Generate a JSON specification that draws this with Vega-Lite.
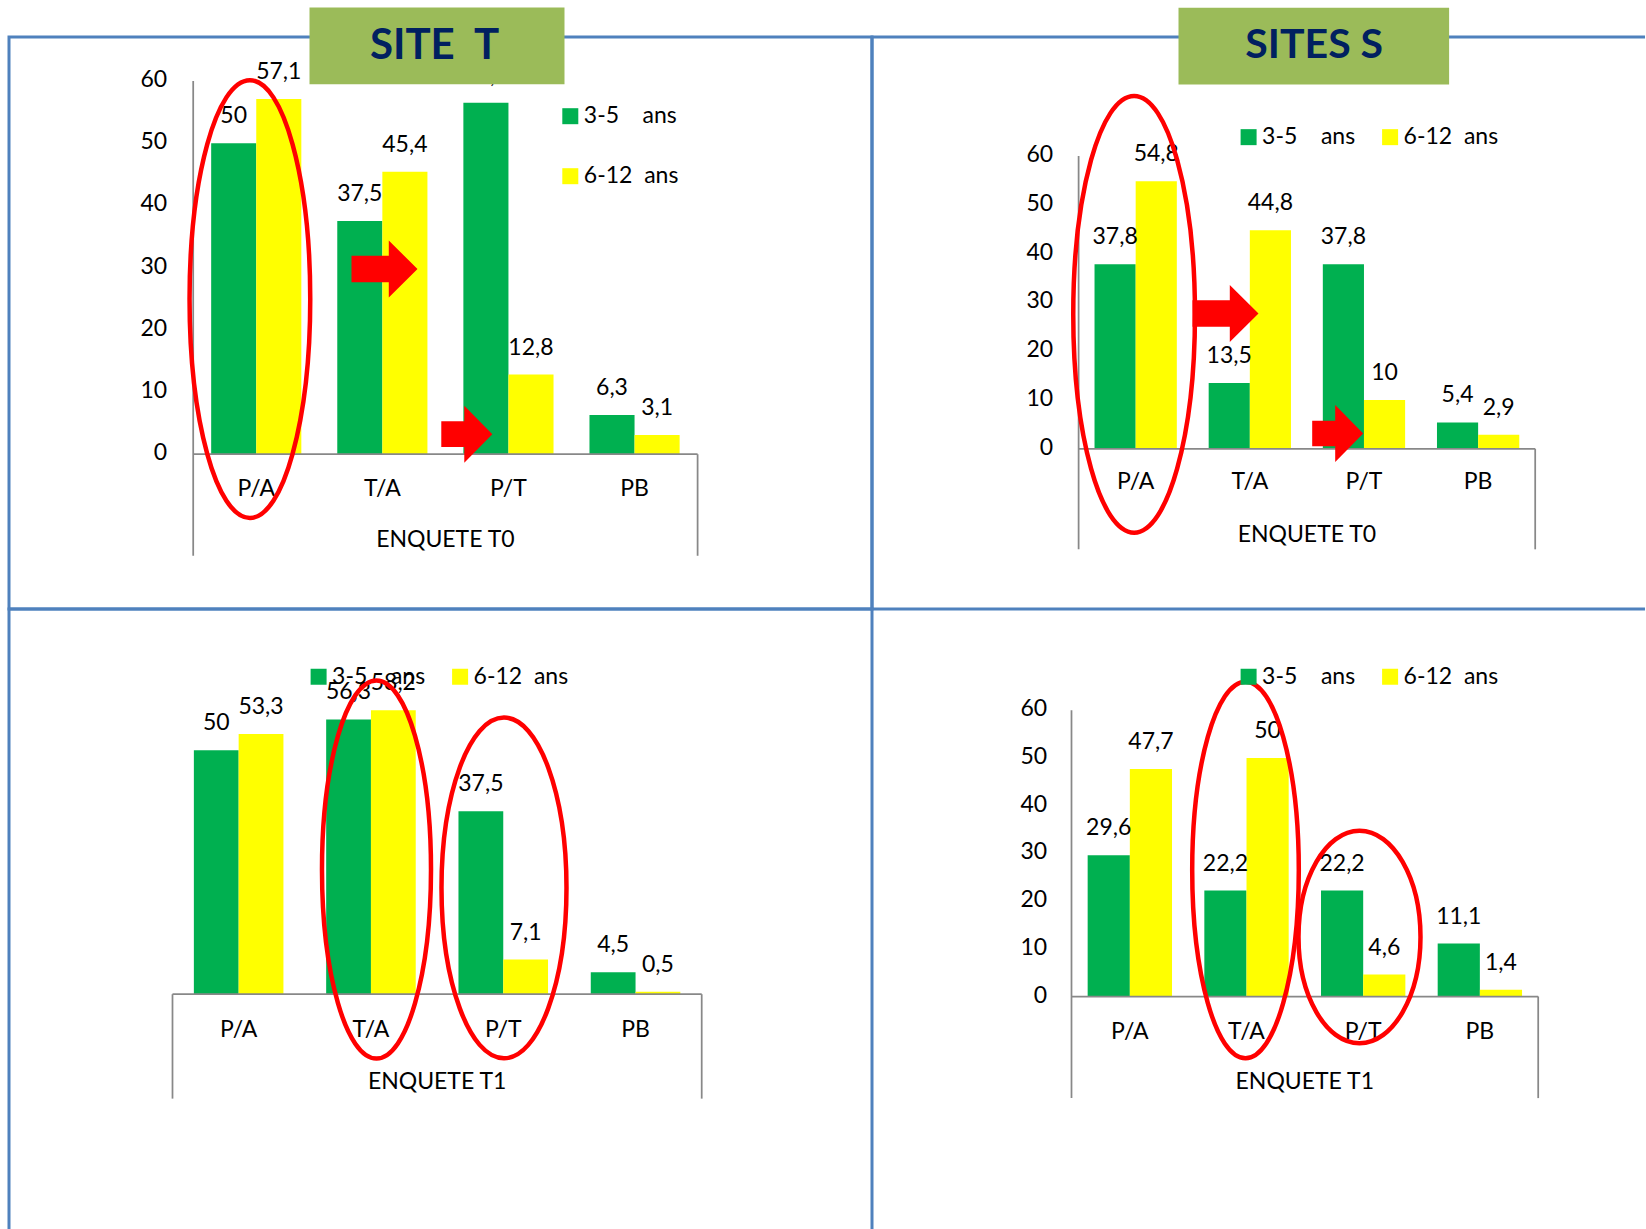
{
  "$schema": "https://vega.github.io/schema/vega-lite/v6.json",
  "background": "white",
  "padding": {"left": 7, "top": 6, "right": 0, "bottom": 0},
  "autosize": {"type": "pad"},
  "datasets": {
    "d": [
      {"site": "T", "enq": "T0", "cat": "P/A", "grp": "3-5 ans", "value": 50},
      {"site": "T", "enq": "T0", "cat": "P/A", "grp": "6-12 ans", "value": 57.1},
      {"site": "T", "enq": "T0", "cat": "T/A", "grp": "3-5 ans", "value": 37.5},
      {"site": "T", "enq": "T0", "cat": "T/A", "grp": "6-12 ans", "value": 45.4},
      {"site": "T", "enq": "T0", "cat": "P/T", "grp": "3-5 ans", "value": 56.5},
      {"site": "T", "enq": "T0", "cat": "P/T", "grp": "6-12 ans", "value": 12.8},
      {"site": "T", "enq": "T0", "cat": "PB", "grp": "3-5 ans", "value": 6.3},
      {"site": "T", "enq": "T0", "cat": "PB", "grp": "6-12 ans", "value": 3.1},
      {"site": "S", "enq": "T0", "cat": "P/A", "grp": "3-5 ans", "value": 37.8},
      {"site": "S", "enq": "T0", "cat": "P/A", "grp": "6-12 ans", "value": 54.8},
      {"site": "S", "enq": "T0", "cat": "T/A", "grp": "3-5 ans", "value": 13.5},
      {"site": "S", "enq": "T0", "cat": "T/A", "grp": "6-12 ans", "value": 44.8},
      {"site": "S", "enq": "T0", "cat": "P/T", "grp": "3-5 ans", "value": 37.8},
      {"site": "S", "enq": "T0", "cat": "P/T", "grp": "6-12 ans", "value": 10},
      {"site": "S", "enq": "T0", "cat": "PB", "grp": "3-5 ans", "value": 5.4},
      {"site": "S", "enq": "T0", "cat": "PB", "grp": "6-12 ans", "value": 2.9},
      {"site": "T", "enq": "T1", "cat": "P/A", "grp": "3-5 ans", "value": 50},
      {"site": "T", "enq": "T1", "cat": "P/A", "grp": "6-12 ans", "value": 53.3},
      {"site": "T", "enq": "T1", "cat": "T/A", "grp": "3-5 ans", "value": 56.3},
      {"site": "T", "enq": "T1", "cat": "T/A", "grp": "6-12 ans", "value": 58.2},
      {"site": "T", "enq": "T1", "cat": "P/T", "grp": "3-5 ans", "value": 37.5},
      {"site": "T", "enq": "T1", "cat": "P/T", "grp": "6-12 ans", "value": 7.1},
      {"site": "T", "enq": "T1", "cat": "PB", "grp": "3-5 ans", "value": 4.5},
      {"site": "T", "enq": "T1", "cat": "PB", "grp": "6-12 ans", "value": 0.5},
      {"site": "S", "enq": "T1", "cat": "P/A", "grp": "3-5 ans", "value": 29.6},
      {"site": "S", "enq": "T1", "cat": "P/A", "grp": "6-12 ans", "value": 47.7},
      {"site": "S", "enq": "T1", "cat": "T/A", "grp": "3-5 ans", "value": 22.2},
      {"site": "S", "enq": "T1", "cat": "T/A", "grp": "6-12 ans", "value": 50},
      {"site": "S", "enq": "T1", "cat": "P/T", "grp": "3-5 ans", "value": 22.2},
      {"site": "S", "enq": "T1", "cat": "P/T", "grp": "6-12 ans", "value": 4.6},
      {"site": "S", "enq": "T1", "cat": "PB", "grp": "3-5 ans", "value": 11.1},
      {"site": "S", "enq": "T1", "cat": "PB", "grp": "6-12 ans", "value": 1.4}
    ],
    "ticks": [{"v": 0}, {"v": 10}, {"v": 20}, {"v": 30}, {"v": 40}, {"v": 50}, {"v": 60}]
  },
  "columns": 2,
  "spacing": 0,
  "bounds": "flush",
  "resolve": {"scale": {"color": "independent", "xOffset": "independent"}, "legend": {"color": "independent"}},
  "concat": [
    {
      "width": 863, "height": 572,
      "view": {"stroke": "#4F81BD", "strokeWidth": 3},
      "layer": [
        {
          "data": {"name": "d"},
          "transform": [{"filter": "datum.site == 'T' && datum.enq == 'T0'"}],
          "mark": {"type": "bar"},
          "encoding": {
            "x": {"field": "cat", "type": "nominal",
              "scale": {"domain": ["P/A", "T/A", "P/T", "PB"], "range": [184.2, 688.6], "paddingInner": 0.285, "paddingOuter": 0.1425, "round": false},
              "axis": null},
            "xOffset": {"field": "grp", "type": "nominal", "scale": {"domain": ["3-5 ans", "6-12 ans"]}},
            "y": {"field": "value", "type": "quantitative",
              "scale": {"domain": [-24.887, 67.074], "nice": false, "zero": false},
              "axis": null},
            "y2": {"datum": 0},
            "color": {"field": "grp", "type": "nominal",
              "scale": {"domain": ["3-5 ans", "6-12 ans"], "range": ["#00B050", "#FFFF00"]},
              "legend": {"orient": "none", "legendX": 549.8, "legendY": 67.7, "direction": "vertical", "rowPadding": 36,
                "labelExpr": "datum.label == '3-5 ans' ? '3-5\u00a0\u00a0\u00a0\u00a0ans' : '6-12\u00a0\u00a0ans'"}}
          }
        },
        {
          "data": {"name": "d"},
          "transform": [{"filter": "datum.site == 'T' && datum.enq == 'T0'"}],
          "mark": {"type": "text", "baseline": "middle", "dy": -27, "fontSize": 23, "color": "#000000"},
          "encoding": {
            "x": {"field": "cat", "type": "nominal", "axis": null},
            "xOffset": {"field": "grp", "type": "nominal"},
            "y": {"field": "value", "type": "quantitative", "axis": null},
            "text": {"field": "value", "type": "quantitative", "format": ".1~f"}
          }
        },
        {
          "data": {"name": "ticks"},
          "mark": {"type": "text", "align": "right", "baseline": "middle", "dy": -1, "fontSize": 23, "color": "#000000"},
          "encoding": {
            "x": {"datum": "P/A", "type": "nominal", "bandPosition": -0.4877, "axis": null},
            "y": {"field": "v", "type": "quantitative", "axis": null},
            "text": {"field": "v", "type": "quantitative"}
          }
        },
        {
          "data": {"name": "d"},
          "transform": [{"filter": "datum.site == 'T' && datum.enq == 'T0' && datum.grp == '3-5 ans'"}],
          "mark": {"type": "text", "baseline": "middle", "fontSize": 23, "color": "#000000"},
          "encoding": {
            "x": {"field": "cat", "type": "nominal", "axis": null},
            "y": {"datum": -5.53, "type": "quantitative", "axis": null},
            "text": {"field": "cat", "type": "nominal"}
          }
        },
        {
          "data": {"values": [{}]},
          "mark": {"type": "text", "text": "ENQUETE T0", "baseline": "middle", "fontSize": 23, "color": "#000000"},
          "encoding": {
            "x": {"datum": "T/A", "type": "nominal", "bandPosition": 1.1987, "axis": null},
            "y": {"datum": -13.8, "type": "quantitative", "axis": null}
          }
        },
        {
          "data": {"values": [{}]},
          "mark": {"type": "rule", "color": "#888888", "strokeWidth": 1.75},
          "encoding": {
            "x": {"datum": "P/A", "type": "nominal", "bandPosition": -0.1993, "axis": null},
            "y": {"datum": 60, "type": "quantitative", "axis": null},
            "y2": {"datum": -16.33}
          }
        },
        {
          "data": {"values": [{}]},
          "mark": {"type": "rule", "color": "#888888", "strokeWidth": 1.75},
          "encoding": {
            "x": {"datum": "PB", "type": "nominal", "bandPosition": 1.1993, "axis": null},
            "y": {"datum": 0, "type": "quantitative", "axis": null},
            "y2": {"datum": -16.33}
          }
        },
        {
          "data": {"values": [{}]},
          "mark": {"type": "rule", "color": "#888888", "strokeWidth": 1.75},
          "encoding": {
            "x": {"datum": "P/A", "type": "nominal", "bandPosition": -0.1993, "axis": null},
            "x2": {"datum": "PB", "bandPosition": 1.1993},
            "y": {"datum": 0, "type": "quantitative", "axis": null}
          }
        },
        {
          "data": {"values": [{}]},
          "mark": {"type": "point", "shape": "M0,-1A0.2757,1,0,1,1,0,1A0.2757,1,0,1,1,0,-1Z", "size": 191669, "filled": false, "color": "#FF0000", "strokeWidth": 4.5, "opacity": 1},
          "encoding": {
            "x": {"datum": "P/A", "type": "nominal", "bandPosition": 0.4296, "axis": null},
            "y": {"datum": 24.94, "type": "quantitative", "axis": null}
          }
        },
        {
          "data": {"values": [{}]},
          "mark": {"type": "point", "shape": "M-1,-0.4L0.13,-0.4L0.13,-0.864L1,0L0.13,0.864L0.13,0.4L-1,0.4Z", "size": 4356, "filled": true, "color": "#FF0000", "strokeWidth": 0, "opacity": 1},
          "encoding": {
            "x": {"datum": "T/A", "type": "nominal", "bandPosition": 0.5238, "axis": null},
            "y": {"datum": 29.77, "type": "quantitative", "axis": null}
          }
        },
        {
          "data": {"values": [{}]},
          "mark": {"type": "point", "shape": "M-0.773,-0.39L-0.076,-0.39L-0.076,-0.864L0.773,0L-0.076,0.864L-0.076,0.39L-0.773,0.39Z", "size": 4356, "filled": true, "color": "#FF0000", "strokeWidth": 0, "opacity": 1},
          "encoding": {
            "x": {"datum": "P/T", "type": "nominal", "bandPosition": 0.038, "axis": null},
            "y": {"datum": 3.215, "type": "quantitative", "axis": null}
          }
        },
        {
          "data": {"values": [{}]},
          "mark": {"type": "point", "shape": "M-1,-0.3008L1,-0.3008L1,0.3008L-1,0.3008Z", "size": 65025, "filled": true, "color": "#9BBB59", "strokeWidth": 0, "opacity": 1},
          "encoding": {
            "x": {"datum": "T/A", "type": "nominal", "bandPosition": 1.1061, "axis": null},
            "y": {"datum": 65.65, "type": "quantitative", "axis": null}
          }
        },
        {
          "data": {"values": [{}]},
          "mark": {"type": "text", "text": "SITE\u00a0\u00a0T", "fontSize": 42, "fontWeight": "bold", "color": "#002060", "baseline": "middle"},
          "encoding": {
            "x": {"datum": "T/A", "type": "nominal", "bandPosition": 1.0784, "axis": null},
            "y": {"datum": 65.68, "type": "quantitative", "axis": null}
          }
        }
      ]
    },
    {
      "width": 773, "height": 572,
      "view": {"stroke": "#4F81BD", "strokeWidth": 3, "strokeDash": [773, 572, 1345]},
      "layer": [
        {
          "data": {"name": "d"},
          "transform": [{"filter": "datum.site == 'S' && datum.enq == 'T0'"}],
          "mark": {"type": "bar"},
          "encoding": {
            "x": {"field": "cat", "type": "nominal",
              "scale": {"domain": ["P/A", "T/A", "P/T", "PB"], "range": [206.6, 663.2], "paddingInner": 0.279, "paddingOuter": 0.1395, "round": false},
              "axis": null},
            "xOffset": {"field": "grp", "type": "nominal", "scale": {"domain": ["3-5 ans", "6-12 ans"]}},
            "y": {"field": "value", "type": "quantitative",
              "scale": {"domain": [-32.828, 84.385], "nice": false, "zero": false},
              "axis": null},
            "y2": {"datum": 0},
            "color": {"field": "grp", "type": "nominal",
              "scale": {"domain": ["3-5 ans", "6-12 ans"], "range": ["#00B050", "#FFFF00"]},
              "legend": {"orient": "none", "legendX": 365.1, "legendY": 88.4, "direction": "horizontal", "columnPadding": 23.5,
                "labelExpr": "datum.label == '3-5 ans' ? '3-5\u00a0\u00a0\u00a0\u00a0ans' : '6-12\u00a0\u00a0ans'"}}
          }
        },
        {
          "data": {"name": "d"},
          "transform": [{"filter": "datum.site == 'S' && datum.enq == 'T0'"}],
          "mark": {"type": "text", "baseline": "middle", "dy": -27, "fontSize": 23, "color": "#000000"},
          "encoding": {
            "x": {"field": "cat", "type": "nominal", "axis": null},
            "xOffset": {"field": "grp", "type": "nominal"},
            "y": {"field": "value", "type": "quantitative", "axis": null},
            "text": {"field": "value", "type": "quantitative", "format": ".1~f"}
          }
        },
        {
          "data": {"name": "ticks"},
          "mark": {"type": "text", "align": "right", "baseline": "middle", "dy": -1, "fontSize": 23, "color": "#000000"},
          "encoding": {
            "x": {"datum": "P/A", "type": "nominal", "bandPosition": -0.502, "axis": null},
            "y": {"field": "v", "type": "quantitative", "axis": null},
            "text": {"field": "v", "type": "quantitative"}
          }
        },
        {
          "data": {"name": "d"},
          "transform": [{"filter": "datum.site == 'S' && datum.enq == 'T0' && datum.grp == '3-5 ans'"}],
          "mark": {"type": "text", "baseline": "middle", "fontSize": 23, "color": "#000000"},
          "encoding": {
            "x": {"field": "cat", "type": "nominal", "axis": null},
            "y": {"datum": -6.86, "type": "quantitative", "axis": null},
            "text": {"field": "cat", "type": "nominal"}
          }
        },
        {
          "data": {"values": [{}]},
          "mark": {"type": "text", "text": "ENQUETE T0", "baseline": "middle", "fontSize": 23, "color": "#000000"},
          "encoding": {
            "x": {"datum": "T/A", "type": "nominal", "bandPosition": 1.1936, "axis": null},
            "y": {"datum": -17.6, "type": "quantitative", "axis": null}
          }
        },
        {
          "data": {"values": [{}]},
          "mark": {"type": "rule", "color": "#888888", "strokeWidth": 1.75},
          "encoding": {
            "x": {"datum": "P/A", "type": "nominal", "bandPosition": -0.1934, "axis": null},
            "y": {"datum": 60, "type": "quantitative", "axis": null},
            "y2": {"datum": -20.6}
          }
        },
        {
          "data": {"values": [{}]},
          "mark": {"type": "rule", "color": "#888888", "strokeWidth": 1.75},
          "encoding": {
            "x": {"datum": "PB", "type": "nominal", "bandPosition": 1.1934, "axis": null},
            "y": {"datum": 0, "type": "quantitative", "axis": null},
            "y2": {"datum": -20.6}
          }
        },
        {
          "data": {"values": [{}]},
          "mark": {"type": "rule", "color": "#888888", "strokeWidth": 1.75},
          "encoding": {
            "x": {"datum": "P/A", "type": "nominal", "bandPosition": -0.1934, "axis": null},
            "x2": {"datum": "PB", "bandPosition": 1.1934},
            "y": {"datum": 0, "type": "quantitative", "axis": null}
          }
        },
        {
          "data": {"values": [{}]},
          "mark": {"type": "point", "shape": "M0,-1A0.2787,1,0,1,1,0,1A0.2787,1,0,1,1,0,-1Z", "size": 190707, "filled": false, "color": "#FF0000", "strokeWidth": 4.5, "opacity": 1},
          "encoding": {
            "x": {"datum": "P/A", "type": "nominal", "bandPosition": 0.4809, "axis": null},
            "y": {"datum": 27.56, "type": "quantitative", "axis": null}
          }
        },
        {
          "data": {"values": [{}]},
          "mark": {"type": "point", "shape": "M-1,-0.4L0.13,-0.4L0.13,-0.864L1,0L0.13,0.864L0.13,0.4L-1,0.4Z", "size": 4356, "filled": true, "color": "#FF0000", "strokeWidth": 0, "opacity": 1},
          "encoding": {
            "x": {"datum": "T/A", "type": "nominal", "bandPosition": 0.2045, "axis": null},
            "y": {"datum": 27.73, "type": "quantitative", "axis": null}
          }
        },
        {
          "data": {"values": [{}]},
          "mark": {"type": "point", "shape": "M-0.773,-0.39L-0.076,-0.39L-0.076,-0.864L0.773,0L-0.076,0.864L-0.076,0.39L-0.773,0.39Z", "size": 4356, "filled": true, "color": "#FF0000", "strokeWidth": 0, "opacity": 1},
          "encoding": {
            "x": {"datum": "P/T", "type": "nominal", "bandPosition": 0.1808, "axis": null},
            "y": {"datum": 3.135, "type": "quantitative", "axis": null}
          }
        },
        {
          "data": {"values": [{}]},
          "mark": {"type": "point", "shape": "M-1,-0.2834L1,-0.2834L1,0.2834L-1,0.2834Z", "size": 73224, "filled": true, "color": "#9BBB59", "strokeWidth": 0, "opacity": 1},
          "encoding": {
            "x": {"datum": "T/A", "type": "nominal", "bandPosition": 1.2774, "axis": null},
            "y": {"datum": 82.52, "type": "quantitative", "axis": null}
          }
        },
        {
          "data": {"values": [{}]},
          "mark": {"type": "text", "text": "SITES S", "fontSize": 41, "fontWeight": "bold", "color": "#002060", "baseline": "middle"},
          "encoding": {
            "x": {"datum": "T/A", "type": "nominal", "bandPosition": 1.2823, "axis": null},
            "y": {"datum": 82.54, "type": "quantitative", "axis": null}
          }
        }
      ]
    },
    {
      "width": 863, "height": 620,
      "view": {"stroke": "#4F81BD", "strokeWidth": 3, "strokeDash": [1483, 863, 620]},
      "layer": [
        {
          "data": {"name": "d"},
          "transform": [{"filter": "datum.site == 'T' && datum.enq == 'T1'"}],
          "mark": {"type": "bar"},
          "encoding": {
            "x": {"field": "cat", "type": "nominal",
              "scale": {"domain": ["P/A", "T/A", "P/T", "PB"], "range": [163.5, 692.7], "paddingInner": 0.323, "paddingOuter": 0.1615, "round": false},
              "axis": null},
            "xOffset": {"field": "grp", "type": "nominal", "scale": {"domain": ["3-5 ans", "6-12 ans"]}},
            "y": {"field": "value", "type": "quantitative",
              "scale": {"domain": [-48.115, 78.934], "nice": false, "zero": false},
              "axis": null},
            "y2": {"datum": 0},
            "color": {"field": "grp", "type": "nominal",
              "scale": {"domain": ["3-5 ans", "6-12 ans"], "range": ["#00B050", "#FFFF00"]},
              "legend": {"orient": "none", "legendX": 298.1, "legendY": 56, "direction": "horizontal", "columnPadding": 23.5,
                "labelExpr": "datum.label == '3-5 ans' ? '3-5\u00a0\u00a0\u00a0\u00a0ans' : '6-12\u00a0\u00a0ans'"}}
          }
        },
        {
          "data": {"name": "d"},
          "transform": [{"filter": "datum.site == 'T' && datum.enq == 'T1'"}],
          "mark": {"type": "text", "baseline": "middle", "dy": -27, "fontSize": 23, "color": "#000000"},
          "encoding": {
            "x": {"field": "cat", "type": "nominal", "axis": null},
            "xOffset": {"field": "grp", "type": "nominal"},
            "y": {"field": "value", "type": "quantitative", "axis": null},
            "text": {"field": "value", "type": "quantitative", "format": ".1~f"}
          }
        },
        {
          "data": {"name": "d"},
          "transform": [{"filter": "datum.site == 'T' && datum.enq == 'T1' && datum.grp == '3-5 ans'"}],
          "mark": {"type": "text", "baseline": "middle", "fontSize": 23, "color": "#000000"},
          "encoding": {
            "x": {"field": "cat", "type": "nominal", "axis": null},
            "y": {"datum": -7.3, "type": "quantitative", "axis": null},
            "text": {"field": "cat", "type": "nominal"}
          }
        },
        {
          "data": {"values": [{}]},
          "mark": {"type": "text", "text": "ENQUETE T1", "baseline": "middle", "fontSize": 23, "color": "#000000"},
          "encoding": {
            "x": {"datum": "T/A", "type": "nominal", "bandPosition": 1.2385, "axis": null},
            "y": {"datum": -17.93, "type": "quantitative", "axis": null}
          }
        },
        {
          "data": {"values": [{}]},
          "mark": {"type": "rule", "color": "#888888", "strokeWidth": 1.75},
          "encoding": {
            "x": {"datum": "P/A", "type": "nominal", "bandPosition": -0.2386, "axis": null},
            "y": {"datum": 0, "type": "quantitative", "axis": null},
            "y2": {"datum": -21.4}
          }
        },
        {
          "data": {"values": [{}]},
          "mark": {"type": "rule", "color": "#888888", "strokeWidth": 1.75},
          "encoding": {
            "x": {"datum": "PB", "type": "nominal", "bandPosition": 1.2386, "axis": null},
            "y": {"datum": 0, "type": "quantitative", "axis": null},
            "y2": {"datum": -21.4}
          }
        },
        {
          "data": {"values": [{}]},
          "mark": {"type": "rule", "color": "#888888", "strokeWidth": 1.75},
          "encoding": {
            "x": {"datum": "P/A", "type": "nominal", "bandPosition": -0.2386, "axis": null},
            "x2": {"datum": "PB", "bandPosition": 1.2386},
            "y": {"datum": 0, "type": "quantitative", "axis": null}
          }
        },
        {
          "data": {"values": [{}]},
          "mark": {"type": "point", "shape": "M0,-1A0.2884,1,0,1,1,0,1A0.2884,1,0,1,1,0,-1Z", "size": 142884, "filled": false, "color": "#FF0000", "strokeWidth": 4.5, "opacity": 1},
          "encoding": {
            "x": {"datum": "T/A", "type": "nominal", "bandPosition": 0.5619, "axis": null},
            "y": {"datum": 25.55, "type": "quantitative", "axis": null}
          }
        },
        {
          "data": {"values": [{}]},
          "mark": {"type": "point", "shape": "M0,-1A0.3669,1,0,1,1,0,1A0.3669,1,0,1,1,0,-1Z", "size": 116076, "filled": false, "color": "#FF0000", "strokeWidth": 4.5, "opacity": 1},
          "encoding": {
            "x": {"datum": "P/T", "type": "nominal", "bandPosition": 0.5083, "axis": null},
            "y": {"datum": 21.78, "type": "quantitative", "axis": null}
          }
        }
      ]
    },
    {
      "width": 773, "height": 620,
      "view": {"stroke": null},
      "layer": [
        {
          "data": {"name": "d"},
          "transform": [{"filter": "datum.site == 'S' && datum.enq == 'T1'"}],
          "mark": {"type": "bar"},
          "encoding": {
            "x": {"field": "cat", "type": "nominal",
              "scale": {"domain": ["P/A", "T/A", "P/T", "PB"], "range": [199.5, 666.2], "paddingInner": 0.277, "paddingOuter": 0.1385, "round": false},
              "axis": null},
            "xOffset": {"field": "grp", "type": "nominal", "scale": {"domain": ["3-5 ans", "6-12 ans"]}},
            "y": {"field": "value", "type": "quantitative",
              "scale": {"domain": [-48.742, 81.237], "nice": false, "zero": false},
              "axis": null},
            "y2": {"datum": 0},
            "color": {"field": "grp", "type": "nominal",
              "scale": {"domain": ["3-5 ans", "6-12 ans"], "range": ["#00B050", "#FFFF00"]},
              "legend": {"orient": "none", "legendX": 365.1, "legendY": 56, "direction": "horizontal", "columnPadding": 23.5,
                "labelExpr": "datum.label == '3-5 ans' ? '3-5\u00a0\u00a0\u00a0\u00a0ans' : '6-12\u00a0\u00a0ans'"}}
          }
        },
        {
          "data": {"name": "d"},
          "transform": [{"filter": "datum.site == 'S' && datum.enq == 'T1'"}],
          "mark": {"type": "text", "baseline": "middle", "dy": -27, "fontSize": 23, "color": "#000000"},
          "encoding": {
            "x": {"field": "cat", "type": "nominal", "axis": null},
            "xOffset": {"field": "grp", "type": "nominal"},
            "y": {"field": "value", "type": "quantitative", "axis": null},
            "text": {"field": "value", "type": "quantitative", "format": ".1~f"}
          }
        },
        {
          "data": {"name": "ticks"},
          "mark": {"type": "text", "align": "right", "baseline": "middle", "dy": -1, "fontSize": 23, "color": "#000000"},
          "encoding": {
            "x": {"datum": "P/A", "type": "nominal", "bandPosition": -0.4808, "axis": null},
            "y": {"field": "v", "type": "quantitative", "axis": null},
            "text": {"field": "v", "type": "quantitative"}
          }
        },
        {
          "data": {"name": "d"},
          "transform": [{"filter": "datum.site == 'S' && datum.enq == 'T1' && datum.grp == '3-5 ans'"}],
          "mark": {"type": "text", "baseline": "middle", "fontSize": 23, "color": "#000000"},
          "encoding": {
            "x": {"field": "cat", "type": "nominal", "axis": null},
            "y": {"datum": -7.34, "type": "quantitative", "axis": null},
            "text": {"field": "cat", "type": "nominal"}
          }
        },
        {
          "data": {"values": [{}]},
          "mark": {"type": "text", "text": "ENQUETE T1", "baseline": "middle", "fontSize": 23, "color": "#000000"},
          "encoding": {
            "x": {"datum": "T/A", "type": "nominal", "bandPosition": 1.191, "axis": null},
            "y": {"datum": -17.82, "type": "quantitative", "axis": null}
          }
        },
        {
          "data": {"values": [{}]},
          "mark": {"type": "rule", "color": "#888888", "strokeWidth": 1.75},
          "encoding": {
            "x": {"datum": "P/A", "type": "nominal", "bandPosition": -0.1916, "axis": null},
            "y": {"datum": 60, "type": "quantitative", "axis": null},
            "y2": {"datum": -21.3}
          }
        },
        {
          "data": {"values": [{}]},
          "mark": {"type": "rule", "color": "#888888", "strokeWidth": 1.75},
          "encoding": {
            "x": {"datum": "PB", "type": "nominal", "bandPosition": 1.1916, "axis": null},
            "y": {"datum": 0, "type": "quantitative", "axis": null},
            "y2": {"datum": -21.3}
          }
        },
        {
          "data": {"values": [{}]},
          "mark": {"type": "rule", "color": "#888888", "strokeWidth": 1.75},
          "encoding": {
            "x": {"datum": "P/A", "type": "nominal", "bandPosition": -0.1916, "axis": null},
            "x2": {"datum": "PB", "bandPosition": 1.1916},
            "y": {"datum": 0, "type": "quantitative", "axis": null}
          }
        },
        {
          "data": {"values": [{}]},
          "mark": {"type": "point", "shape": "M0,-1A0.2831,1,0,1,1,0,1A0.2831,1,0,1,1,0,-1Z", "size": 141752, "filled": false, "color": "#FF0000", "strokeWidth": 4.5, "opacity": 1},
          "encoding": {
            "x": {"datum": "T/A", "type": "nominal", "bandPosition": 0.488, "axis": null},
            "y": {"datum": 26.52, "type": "quantitative", "axis": null}
          }
        },
        {
          "data": {"values": [{}]},
          "mark": {"type": "point", "shape": "M0,-1A0.5744,1,0,1,1,0,1A0.5744,1,0,1,1,0,-1Z", "size": 45114, "filled": false, "color": "#FF0000", "strokeWidth": 4.5, "opacity": 1},
          "encoding": {
            "x": {"datum": "P/T", "type": "nominal", "bandPosition": 0.4563, "axis": null},
            "y": {"datum": 12.47, "type": "quantitative", "axis": null}
          }
        }
      ]
    }
  ],
  "config": {
    "font": "Lato",
    "locale": {"number": {"decimal": ",", "thousands": "\u00a0", "grouping": [3], "currency": ["", "\u00a0€"]}},
    "legend": {
      "title": null, "padding": 0, "symbolType": "square", "symbolSize": 256, "symbolStrokeWidth": 0, "symbolOpacity": 1,
      "labelFont": "Lato", "labelFontSize": 23, "labelColor": "#000000", "labelOffset": 2, "labelLimit": 300
    }
  }
}
